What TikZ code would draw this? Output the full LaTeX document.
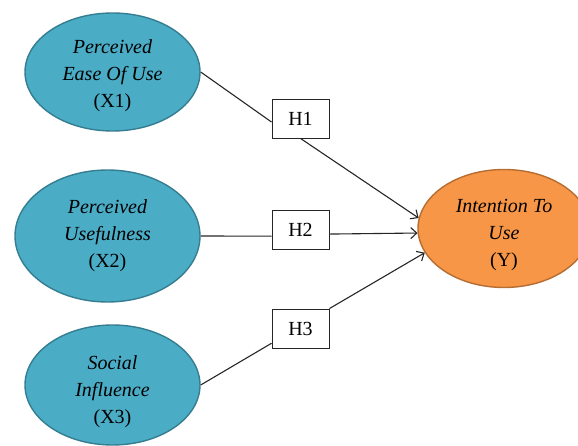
\documentclass[tikz,border=0pt]{standalone}
\usepackage{fontspec}
\setmainfont{Liberation Serif}
\usepackage{tikz}
\usetikzlibrary{arrows.meta,positioning,shapes.geometric}
\definecolor{Aqua}{HTML}{4BACC6}
\definecolor{AquaLine}{HTML}{357D91}
\definecolor{Tang}{HTML}{F79646}
\definecolor{TangLine}{HTML}{B66D31}
\definecolor{Ink}{HTML}{262626}

\begin{document}
\begin{tikzpicture}[x=1pt,y=-1pt,
  latent/.style={ellipse,draw=AquaLine,fill=Aqua,line width=1.4pt,inner sep=0pt,align=center,text depth=4pt,font=\fontsize{20}{27}\selectfont},
  outcome/.style={ellipse,draw=TangLine,fill=Tang,line width=1.4pt,inner sep=0pt,align=center,text depth=4pt,font=\fontsize{20}{27}\selectfont},
  hyp/.style={draw=Ink,fill=white,line width=0.9pt,minimum width=57pt,minimum height=39pt,inner sep=0pt,font=\fontsize{20}{24}\selectfont},
  link/.style={draw=Ink,line width=1.1pt},
  arrow/.style={-{Straight Barb[length=6pt,width=11pt,line width=1.1pt]},draw=Ink,line width=1.1pt}
]
\useasboundingbox (0,0) rectangle (578,446);
\node[latent,minimum width=175pt,minimum height=118pt,text height=76pt] (pe) at (112.5,72) {\textit{Perceived}\\\textit{Ease Of Use}\\(X1)};
\node[latent,minimum width=185pt,minimum height=132pt,text height=68pt] (pu) at (107.5,236) {\textit{Perceived}\\\textit{Usefulness}\\(X2)};
\node[latent,minimum width=175pt,minimum height=120pt,text height=80pt] (si) at (112.5,385) {\textit{Social}\\\textit{Influence}\\(X3)};
\node[outcome,minimum width=172pt,minimum height=118pt,text height=79pt] (iu) at (504,228.5) {\textit{Intention To}\\\textit{Use}\\(Y)};
\node[hyp] (h1) at (300.5,118.5) {H1};
\node[hyp] (h2) at (300.5,230) {H2};
\node[hyp] (h3) at (300.5,328.5) {H3};
\draw[link] (pe.east) -- (h1.187);
\draw[arrow] (h1.south) -- (iu.173);
\draw[link] (pu.east) -- (h2.192);
\draw[arrow] (h2.352) -- (iu.183);
\draw[link] (si.east) -- (h3.207);
\draw[arrow] (h3.north east) -- (iu.197);
\end{tikzpicture}
\end{document}
